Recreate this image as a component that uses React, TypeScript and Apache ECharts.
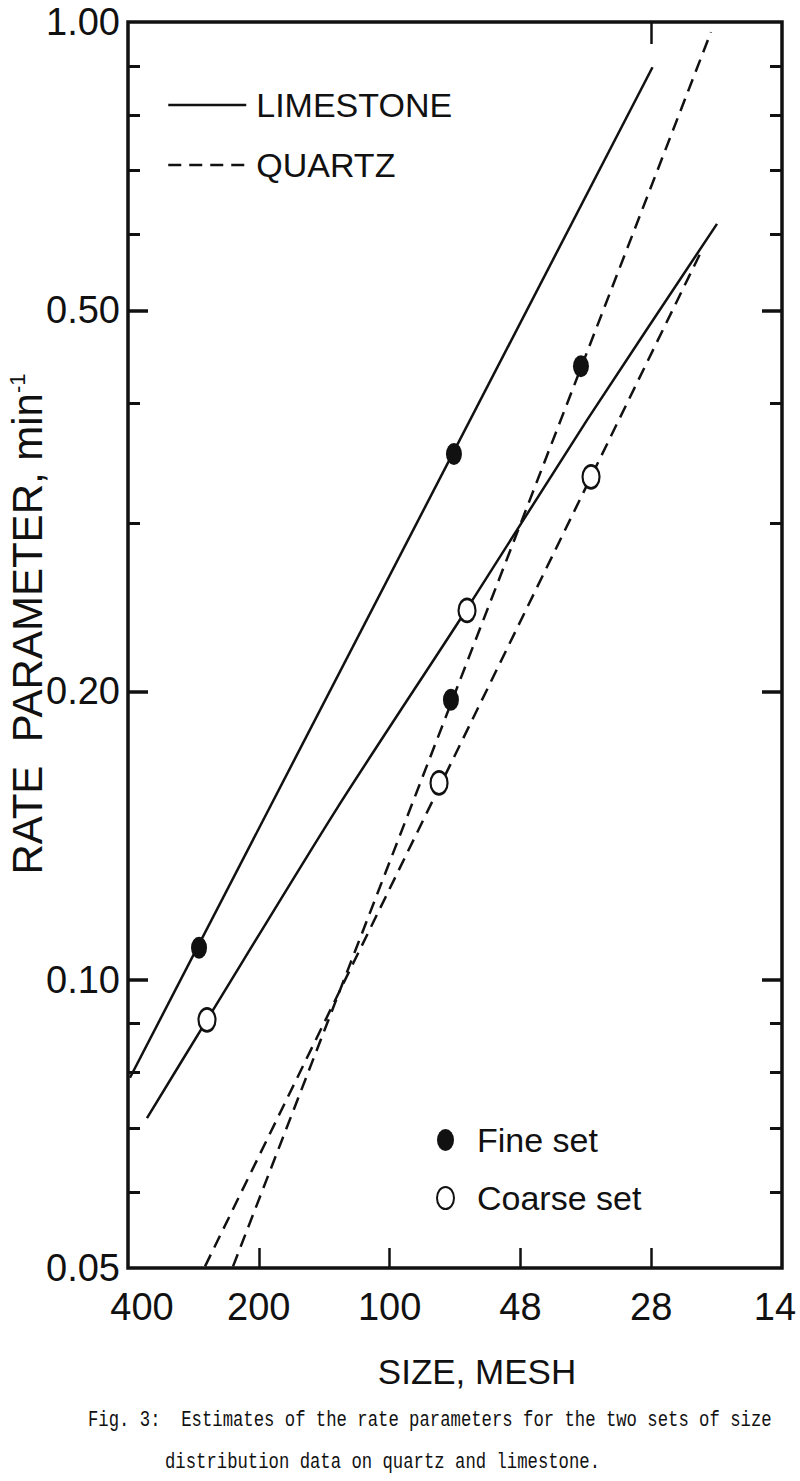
import React, { useEffect, useRef } from 'react';
import * as echarts from 'echarts';

// size-axis positions: 0 = 400 mesh, 1 = 200, 2 = 100, 3 = 48, 4 = 28, 5 = 14 mesh
const meshLabels = ['400', '200', '100', '48', '28', '14'];
const yLabelValues = [0.05, 0.1, 0.2, 0.5, 1.0];
const yMajorTicks = [0.1, 0.2, 0.5];
const yMinorTicks = [0.06, 0.07, 0.08, 0.09, 0.3, 0.4, 0.6, 0.7, 0.8, 0.9];
const xInnerTicks = [1, 2, 3, 4];
const xTopTicks = [4];

const limestoneFineLine = [[0.015, 0.079], [4.01, 0.897]];
const limestoneCoarseLine = [[0.145, 0.0717], [0.604, 0.0908], [1.598, 0.151], [2.592, 0.244], [3.509, 0.384], [4.503, 0.6155]];
const quartzFineLine = [[0.803, 0.0502], [4.457, 0.976]];
const quartzCoarseLine = [[0.589, 0.0502], [4.388, 0.578]];
const finePoints = [[0.543, 0.108], [2.492, 0.354], [2.469, 0.196], [3.463, 0.437]];
const coarsePoints = [[0.604, 0.0908], [2.592, 0.243], [2.378, 0.1605], [3.54, 0.335]];

const captionLine1 = 'Fig. 3:  Estimates of the rate parameters for the two sets of size';
const captionLine2 = 'distribution data on quartz and limestone.';

const SANS = "'Liberation Sans', Arial, sans-serif";
const MONO = "'Liberation Mono', 'DejaVu Sans Mono', monospace";
const INK = '#111';
const ELLIPSE = 'path://M0,11A8.5,11 0 1,1 17,11A8.5,11 0 1,1 0,11Z';

export default function App() {
  const ref = useRef<HTMLDivElement>(null);
  useEffect(() => {
    document.body.style.margin = '0';
    const chart = echarts.init(ref.current!, undefined, { renderer: 'svg' });
    const yBase = (position: string, ticks: number[], len: number, width: number) => ({
      type: 'log',
      min: 0.05,
      max: 1,
      position,
      axisLine: { show: false, onZero: false },
      axisTick: { show: true, inside: true, length: len, customValues: ticks, lineStyle: { color: INK, width } },
      axisLabel: { show: false },
      splitLine: { show: false },
      minorTick: { show: false },
    });
    const lineSeries = (name: string, data: number[][], dashed: boolean, smooth = false) => ({
      type: 'line',
      name,
      data,
      xAxisIndex: 0,
      yAxisIndex: 0,
      symbol: 'none',
      smooth: smooth ? 0.25 : false,
      lineStyle: { color: INK, width: 2.5, type: dashed ? [13, 8] : 'solid' },
      itemStyle: { color: INK },
      z: 2,
    });
    const last = meshLabels.length - 1;
    chart.setOption({
      animation: false,
      backgroundColor: '#fff',
      grid: {
        left: 128,
        right: 18,
        top: 22,
        bottom: 213,
        containLabel: false,
        outerBoundsMode: 'none',
        show: true,
        borderColor: INK,
        borderWidth: 3.5,
        backgroundColor: 'transparent',
      },
      xAxis: [
        {
          type: 'value',
          min: 0,
          max: 5,
          interval: 1,
          position: 'bottom',
          axisLine: { show: false, onZero: false },
          axisTick: { show: true, inside: true, length: 20, customValues: xInnerTicks, lineStyle: { color: INK, width: 2.5 } },
          axisLabel: {
            formatter: (v: number) => {
              const i = Math.round(v);
              if (i === 0) return '{first|' + meshLabels[i] + '}';
              if (i === last) return '{last|' + meshLabels[i] + '}';
              return meshLabels[i];
            },
            fontSize: 38,
            fontFamily: SANS,
            color: INK,
            margin: 20,
            rich: {
              first: { fontSize: 38, fontFamily: SANS, color: INK, padding: [0, 0, 0, 28] },
              last: { fontSize: 38, fontFamily: SANS, color: INK, padding: [0, 14, 0, 0] },
            },
          },
          splitLine: { show: false },
          name: 'SIZE, MESH',
          nameLocation: 'middle',
          nameGap: 86,
          nameTextStyle: { fontSize: 35, fontFamily: SANS, color: INK, padding: [0, 0, 0, 44] },
        },
        {
          type: 'value',
          min: 0,
          max: 5,
          interval: 1,
          position: 'top',
          axisLine: { show: false, onZero: false },
          axisTick: { show: true, inside: true, length: 22, customValues: xTopTicks, lineStyle: { color: INK, width: 2.5 } },
          axisLabel: { show: false },
          splitLine: { show: false },
        },
      ],
      yAxis: [
        {
          ...yBase('left', yMajorTicks, 20, 3.5),
          axisLabel: {
            show: true,
            customValues: yLabelValues,
            formatter: (v: number) => v.toFixed(2),
            fontSize: 38,
            fontFamily: SANS,
            color: INK,
            margin: 8,
          },
          name: '{a|RATE  PARAMETER, min}{b|-1}',
          nameLocation: 'middle',
          nameRotate: 90,
          nameGap: 80,
          nameMoveOverlap: false,
          nameTextStyle: {
            color: INK,
            padding: [0, 0, 0, 42],
            rich: {
              a: { fontSize: 42, fontFamily: SANS, color: INK },
              b: { fontSize: 22, fontFamily: SANS, color: INK, verticalAlign: 'top' },
            },
          },
        },
        yBase('left', yMinorTicks, 12, 3),
        yBase('right', yMajorTicks, 20, 3.5),
        yBase('right', yMinorTicks, 12, 3),
      ],
      legend: [
        {
          data: ['LIMESTONE', 'QUARTZ'],
          orient: 'vertical',
          left: 162,
          top: 83,
          itemWidth: 78,
          itemHeight: 1,
          itemGap: 26,
          lineStyle: { width: 2.5 },
          textStyle: { fontSize: 34, fontFamily: SANS, color: INK, padding: [0, 0, 0, 5] },
        },
        {
          data: ['Fine set', 'Coarse set'],
          orient: 'vertical',
          left: 431,
          top: 1118,
          itemWidth: 17,
          itemHeight: 24,
          itemGap: 24,
          itemStyle: { opacity: 1 },
          textStyle: { fontSize: 34, fontFamily: SANS, color: INK, padding: [0, 0, 0, 18] },
        },
      ],
      series: [
        lineSeries('LIMESTONE', limestoneFineLine, false),
        lineSeries('LIMESTONE', limestoneCoarseLine, false, true),
        lineSeries('QUARTZ', quartzFineLine, true),
        lineSeries('QUARTZ', quartzCoarseLine, true),
        {
          type: 'scatter',
          name: 'Fine set',
          data: finePoints,
          symbol: ELLIPSE,
          symbolSize: [16, 22],
          itemStyle: { color: INK, opacity: 1 },
          z: 5,
        },
        {
          type: 'scatter',
          name: 'Coarse set',
          data: coarsePoints,
          symbol: ELLIPSE,
          symbolSize: [17, 23],
          itemStyle: { color: '#fff', borderColor: INK, borderWidth: 2.5, opacity: 1 },
          z: 5,
        },
      ],
      graphic: [
        {
          type: 'text',
          x: 88,
          y: 1420,
          scaleX: 0.785,
          style: { text: captionLine1, font: `22px ${MONO}`, fill: INK, verticalAlign: 'middle', align: 'left' },
        },
        {
          type: 'text',
          x: 165,
          y: 1462,
          scaleX: 0.785,
          style: { text: captionLine2, font: `22px ${MONO}`, fill: INK, verticalAlign: 'middle', align: 'left' },
        },
      ],
    });
    return () => chart.dispose();
  }, []);
  return <div ref={ref} style={{ position: 'absolute', left: 0, top: 0, width: 800, height: 1481 }} />;
}
